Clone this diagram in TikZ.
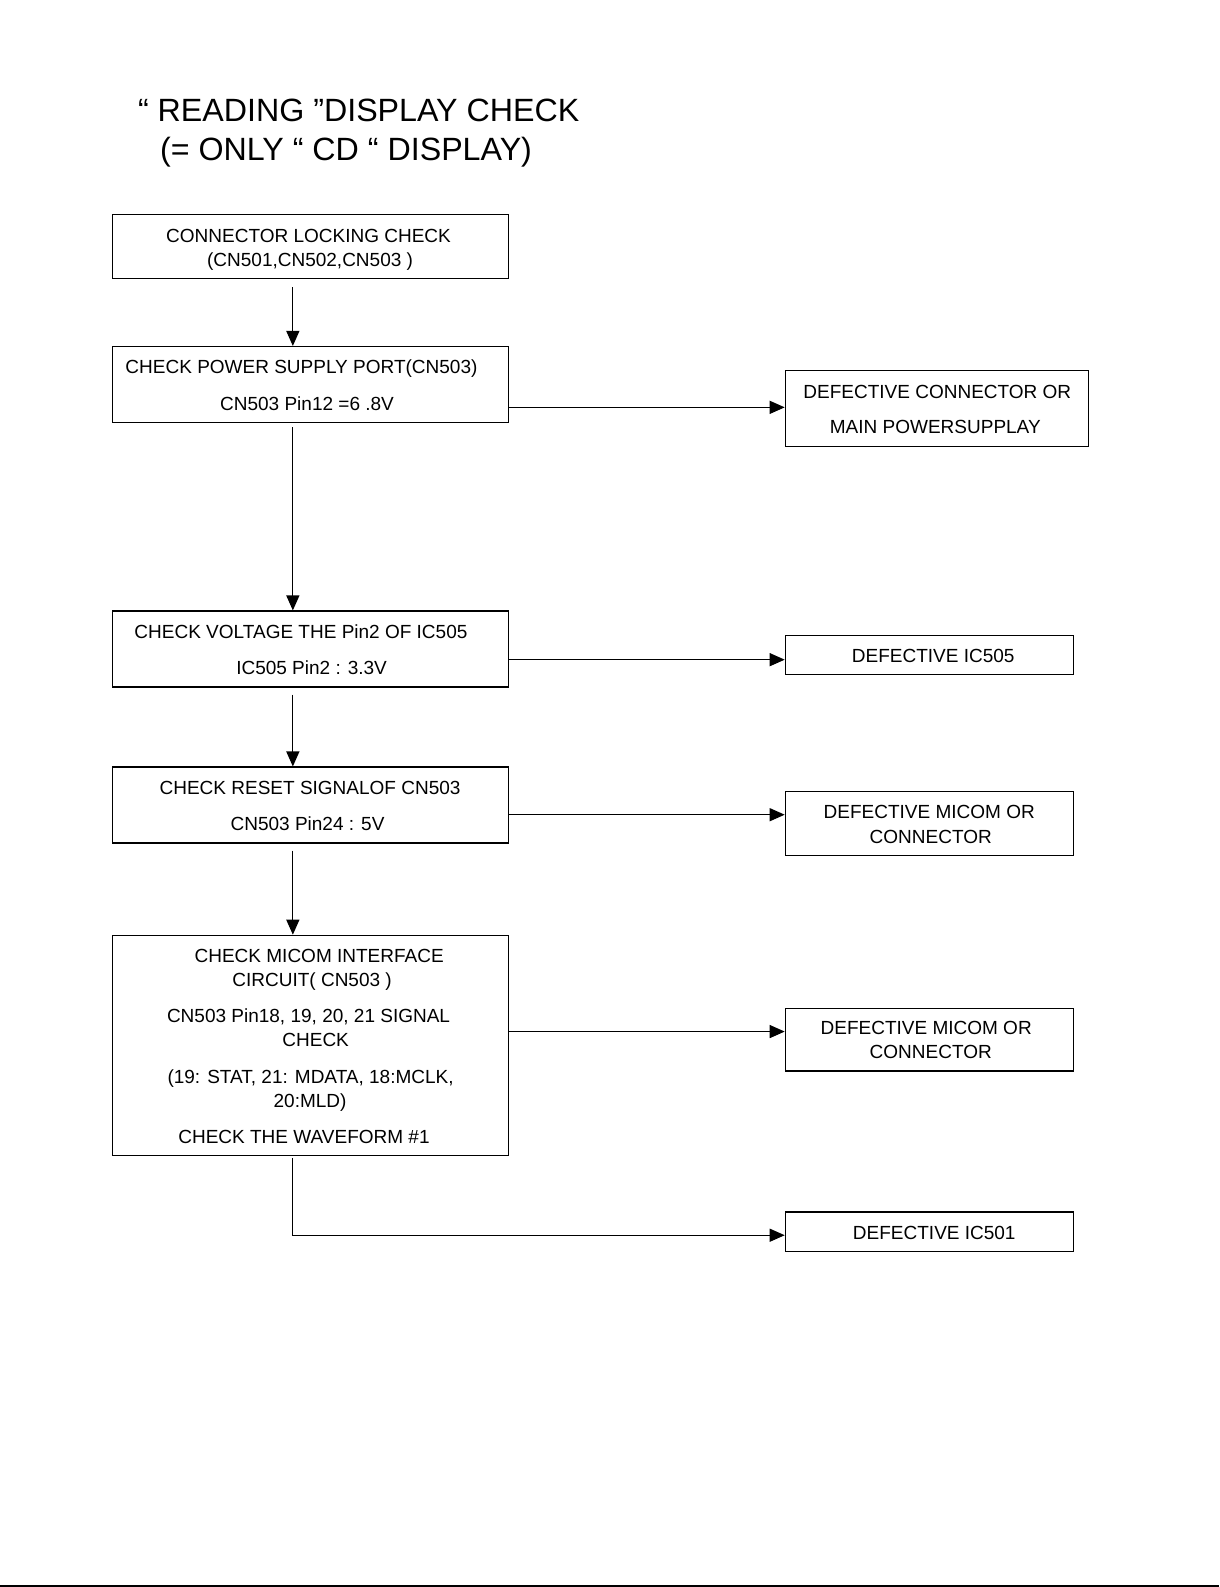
\documentclass[tikz,border=0pt]{standalone}
\usepackage{fontspec}
\setmainfont{Liberation Sans}
\usetikzlibrary{arrows.meta}
\begin{document}
\begin{tikzpicture}[x=1.0133pt,y=-1.0133pt,
  box/.style={draw,line width=1.2pt,inner sep=0pt},
  txt/.style={anchor=base,inner sep=0pt,font=\fontsize{19}{23}\selectfont},
  ttl/.style={anchor=base,inner sep=0pt,font=\fontsize{32.2}{38}\selectfont},
  arr/.style={line width=1.2pt,-{Triangle[length=15pt,width=13pt]}}]
\path[use as bounding box] (0pt,0pt) rectangle (1219pt,-1587pt);
\fill[white] (0pt,0pt) rectangle (1219pt,-1587pt);
\fill[black] (0pt,-1585pt) rectangle (1219pt,-1587pt);
% title
\node[ttl] (t1) at (354,120) {“ READING ”DISPLAY CHECK};
\node[ttl] (t2) at (341.5,158) {(= ONLY “ CD “ DISPLAY)};
% boxes
\coordinate (ax) at (289,0);
\node[box,minimum width=396.2pt,minimum height=63.8pt] (b1) at (306.5,243.5) {};
\node[box,minimum width=396.2pt,minimum height=76pt] (b2) at (306.5,379.5) {};
\node[box,minimum width=396.2pt,minimum height=76pt] (b3) at (306.5,640.5) {};
\node[box,minimum width=396.2pt,minimum height=76pt] (b4) at (306.5,794.5) {};
\node[box,minimum width=396.2pt,minimum height=219.9pt] (b5) at (306.5,1031.5) {};
\node[box,minimum width=303pt,minimum height=76pt] (r1) at (924.5,403.5) {};
\node[box,minimum width=287.8pt,minimum height=39.5pt] (r2) at (917,646.5) {};
\node[box,minimum width=287.8pt,minimum height=63.8pt] (r3) at (917,812.5) {};
\node[box,minimum width=287.8pt,minimum height=62.8pt] (r4) at (917,1026) {};
\node[box,minimum width=287.8pt,minimum height=39.5pt] (r5) at (917,1215.5) {};
% texts
\node[txt] (x11) at (304.5,239) {CONNECTOR LOCKING CHECK};
\node[txt] (x12) at (306,263) {(CN501,CN502,CN503 )};
\node[txt] (x21) at (297.5,369) {CHECK POWER SUPPLY PORT(CN503)};
\node[txt] (x22) at (303,405) {CN503 Pin12 =6 .8V};
\node[txt] (y11) at (925,393) {DEFECTIVE CONNECTOR OR};
\node[txt] (y12) at (923,428) {MAIN POWERSUPPLAY};
\node[txt] (x31) at (297,630) {CHECK VOLTAGE THE Pin2 OF IC505};
\node[txt] (x32) at (307.5,666) {IC505 Pin2 :  3.3V};
\node[txt] (y21) at (921,654) {DEFECTIVE IC505};
\node[txt] (x41) at (306,784) {CHECK RESET SIGNALOF CN503};
\node[txt] (x42) at (303.5,820) {CN503 Pin24 :  5V};
\node[txt] (y31) at (917,808) {DEFECTIVE MICOM OR};
\node[txt] (y32) at (918.5,832) {CONNECTOR};
\node[txt] (x51) at (315,950) {CHECK MICOM INTERFACE};
\node[txt] (x52) at (308,974) {CIRCUIT( CN503 )};
\node[txt] (x53) at (304.5,1009) {CN503 Pin18, 19, 20, 21 SIGNAL};
\node[txt] (x54) at (311.5,1033) {CHECK};
\node[txt] (x55) at (306.5,1069) {(19: STAT, 21: MDATA, 18:MCLK,};
\node[txt] (x56) at (306,1093) {20:MLD)};
\node[txt] (x57) at (300,1128) {CHECK THE WAVEFORM \#1};
\node[txt] (y41) at (914,1021) {DEFECTIVE MICOM OR};
\node[txt] (y42) at (918.5,1045) {CONNECTOR};
\node[txt] (y51) at (922,1223) {DEFECTIVE IC501};
% connectors
\draw[arr] ([yshift=-8pt]b1.south -| ax) -- (b2.north -| ax);
\draw[arr] ([yshift=-4pt]b2.south -| ax) -- (b3.north -| ax);
\draw[arr] ([yshift=-7pt]b3.south -| ax) -- (b4.north -| ax);
\draw[arr] ([yshift=-7pt]b4.south -| ax) -- (b5.north -| ax);
\coordinate (e2) at (502,402);
\coordinate (e3) at (502,651);
\coordinate (e4) at (502,804);
\coordinate (e5) at (502,1018);
\draw[arr] (e2) -- (e2 -| r1.west);
\draw[arr] (e3) -- (e3 -| r2.west);
\draw[arr] (e4) -- (e4 -| r3.west);
\draw[arr] (e5) -- (e5 -| r4.west);
\coordinate (c6) at (289,1219);
\draw[arr] ([yshift=-2pt]b5.south -| ax) -- (c6) -- (c6 -| r5.west);
\end{tikzpicture}
\end{document}
